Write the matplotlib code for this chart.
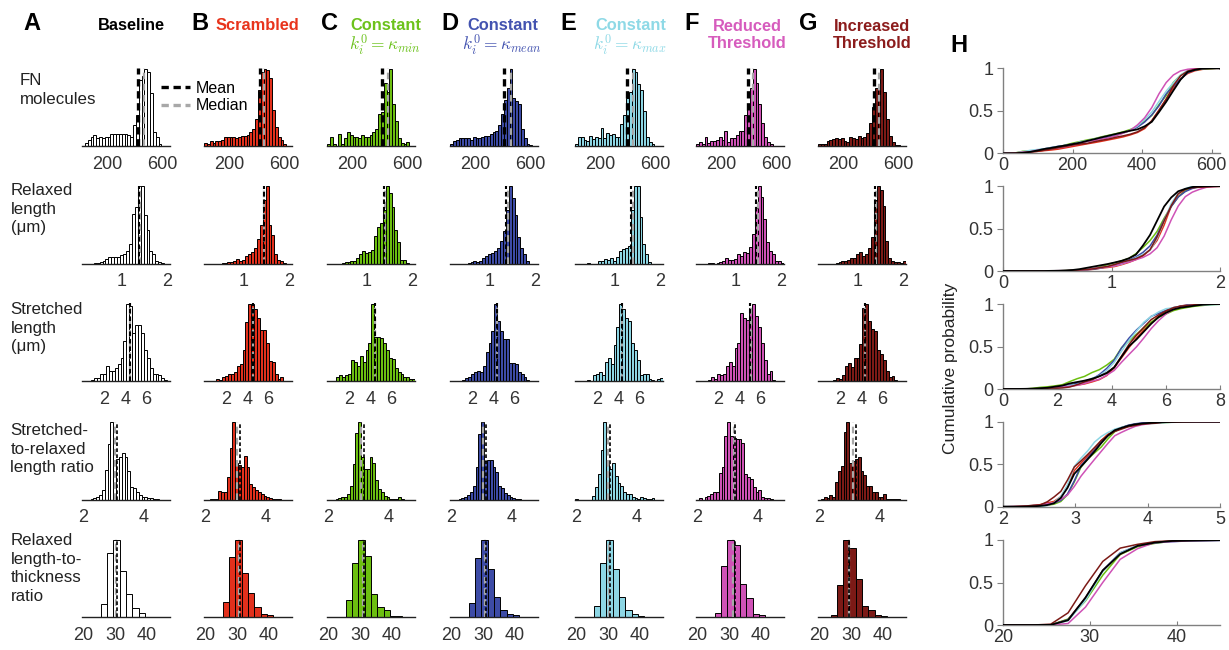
import numpy as np
import matplotlib
matplotlib.use('Agg')
import matplotlib.pyplot as plt
from matplotlib.lines import Line2D

plt.rcParams['font.family'] = ['Liberation Sans', 'DejaVu Sans']
plt.rcParams['mathtext.fontset'] = 'cm'

# ---- данные: высоты столбцов гистограмм (в % от максимума) ----
# колонки: Baseline, Scrambled, Constant min, Constant mean, Constant max, Reduced, Increased
column_names = ['Baseline', 'Scrambled', 'Constant', 'Constant', 'Constant',
                'Reduced\nThreshold', 'Increased\nThreshold']
column_letters = ['A', 'B', 'C', 'D', 'E', 'F', 'G']
row_labels = ['FN\nmolecules', 'Relaxed\nlength\n(\u03bcm)', 'Stretched\nlength\n(\u03bcm)',
              'Stretched-\nto-relaxed\nlength ratio', 'Relaxed\nlength-to-\nthickness\nratio']

# FN molecules
edges_fn = np.linspace(15, 655, 32)
fn_counts = [
    [0, 4, 8, 12, 14, 10, 12, 10, 12, 12, 16, 15, 16, 15, 15, 15, 14, 12, 27, 40, 86, 91, 100, 96, 69, 18, 12, 2, 0, 0, 0],
    [4, 3, 6, 4, 7, 6, 8, 12, 12, 12, 12, 11, 12, 13, 13, 14, 18, 22, 35, 72, 96, 100, 98, 88, 46, 25, 12, 8, 2, 0, 0],
    [3, 12, 3, 0, 15, 3, 10, 18, 14, 12, 12, 10, 14, 12, 12, 14, 18, 22, 42, 44, 82, 70, 100, 55, 32, 10, 4, 2, 5, 0, 0],
    [2, 6, 8, 10, 11, 11, 10, 8, 12, 11, 10, 12, 13, 13, 15, 18, 20, 27, 42, 60, 75, 100, 62, 58, 55, 22, 10, 3, 1, 0, 0],
    [3, 12, 12, 8, 6, 13, 9, 12, 10, 23, 10, 17, 14, 16, 12, 12, 28, 40, 62, 70, 100, 96, 80, 72, 45, 12, 5, 2, 0, 0, 0],
    [3, 5, 2, 12, 4, 7, 7, 8, 12, 8, 20, 5, 10, 10, 14, 20, 20, 40, 52, 75, 100, 82, 55, 30, 12, 5, 2, 0, 0, 0, 0],
    [2, 3, 3, 6, 8, 9, 10, 9, 10, 7, 5, 12, 10, 9, 13, 10, 12, 17, 30, 50, 75, 80, 100, 70, 35, 13, 5, 1, 1, 0, 0],
]
fn_mean = [424, 420, 412, 409, 390, 390, 420]
fn_median = [465, 450, 461, 458, 440, 426, 458]

# Relaxed length
edges_rl = np.linspace(0.12, 2.07, 31)
rl_counts = [
    [0, 0, 0, 0, 1, 1, 2, 3, 6, 9, 9, 9, 9, 11, 12, 17, 26, 64, 74, 100, 100, 63, 44, 17, 13, 4, 2, 1, 0, 0],
    [0, 0, 0, 0, 0, 0, 1, 1, 2, 2, 3, 6, 4, 5, 10, 12, 15, 20, 32, 50, 82, 100, 50, 37, 12, 5, 3, 1, 0, 0],
    [0, 0, 0, 0, 0, 1, 2, 2, 4, 4, 7, 12, 17, 14, 15, 18, 36, 47, 53, 70, 100, 91, 73, 43, 28, 5, 5, 1, 0, 0],
    [0, 0, 0, 0, 0, 0, 1, 2, 3, 2, 4, 7, 10, 12, 14, 16, 20, 30, 42, 70, 100, 85, 63, 35, 20, 12, 4, 0, 0, 0],
    [0, 0, 0, 0, 1, 0, 0, 0, 4, 4, 6, 5, 7, 4, 9, 17, 19, 20, 23, 70, 100, 100, 61, 26, 13, 2, 0, 0, 0, 0],
    [0, 0, 0, 0, 1, 1, 0, 1, 2, 4, 7, 5, 5, 6, 13, 10, 15, 14, 22, 38, 72, 100, 86, 58, 28, 17, 13, 4, 3, 1],
    [0, 0, 0, 0, 0, 0, 1, 2, 3, 3, 5, 8, 7, 12, 15, 10, 12, 20, 35, 82, 100, 95, 75, 30, 8, 3, 2, 2, 1, 3],
]
rl_mean = [1.38, 1.44, 1.38, 1.37, 1.36, 1.45, 1.38]
rl_median = [1.40, 1.46, 1.40, 1.40, 1.40, 1.49, 1.41]

# Stretched length
edges_sl = np.linspace(0, 8.2, 31)
sl_counts = [
    [0.5, 0, 1, 2, 4, 4, 10, 10, 20, 13, 13, 17, 23, 30, 52, 100, 97, 62, 73, 73, 62, 40, 30, 17, 9, 10, 8, 4, 2, 0],
    [0, 0, 1, 0, 3, 2, 5, 7, 10, 10, 12, 20, 23, 40, 77, 100, 100, 94, 82, 67, 67, 50, 26, 25, 10, 3, 5, 1, 0, 0],
    [0, 0, 0, 6, 8, 5, 8, 10, 27, 25, 20, 33, 25, 40, 50, 100, 57, 58, 56, 50, 40, 30, 29, 17, 12, 10, 6, 6, 3, 3],
    [0, 0, 0, 0, 2, 4, 5, 10, 12, 13, 12, 20, 38, 50, 65, 100, 78, 65, 55, 55, 24, 24, 22, 12, 10, 5, 2, 0, 0, 0],
    [0, 0, 0, 0, 2, 0, 8, 9, 12, 8, 25, 30, 22, 47, 70, 100, 93, 82, 78, 50, 40, 28, 8, 10, 10, 3, 2, 1, 3, 4],
    [0, 0, 0, 0, 2, 6, 3, 10, 8, 10, 20, 25, 20, 43, 50, 88, 82, 80, 95, 100, 85, 70, 50, 27, 10, 13, 2, 1, 1, 1],
    [0, 0, 0, 0, 0, 2, 4, 3, 8, 20, 24, 18, 30, 30, 48, 95, 100, 78, 68, 65, 40, 35, 27, 13, 6, 7, 2, 1, 1, 1],
]
sl_mean = [4.4, 4.5, 4.4, 4.35, 4.3, 5.0, 4.3]
sl_median = [4.4, 4.5, 4.4, 4.3, 4.3, 5.05, 4.3]

# Stretched-to-relaxed length ratio
edges_sr = np.linspace(1.96, 4.85, 32)
sr_counts = [
    [0, 0, 0, 1, 2, 3, 6, 13, 38, 72, 100, 52, 53, 55, 60, 55, 37, 17, 15, 10, 6, 4, 3, 2, 2, 1, 1, 0, 0, 0, 0],
    [0, 0, 1, 1, 1, 11, 10, 10, 30, 67, 100, 48, 45, 42, 57, 42, 20, 17, 12, 10, 7, 5, 3, 2, 1, 1, 1, 0, 0, 0, 0],
    [0, 0, 0, 1, 2, 3, 4, 7, 18, 46, 86, 100, 55, 40, 40, 55, 48, 26, 14, 10, 5, 4, 1, 1, 1, 4, 1, 0, 0, 0, 0],
    [0, 0, 0, 1, 2, 4, 6, 10, 18, 42, 85, 100, 50, 51, 52, 42, 36, 18, 15, 9, 6, 4, 2, 1, 1, 0, 0, 0, 0, 0, 0],
    [1, 0, 0, 0, 0, 0, 5, 17, 33, 65, 100, 46, 40, 48, 31, 22, 18, 10, 7, 8, 4, 2, 1, 3, 2, 1, 1, 2, 0, 0, 0],
    [0, 2, 0, 4, 5, 7, 10, 10, 34, 42, 82, 100, 82, 80, 78, 78, 73, 33, 30, 27, 16, 10, 12, 3, 2, 2, 1, 0, 0, 0, 0],
    [0, 1, 3, 2, 6, 3, 23, 37, 43, 88, 100, 47, 50, 53, 55, 37, 32, 18, 18, 10, 10, 4, 3, 7, 1, 1, 1, 1, 1, 0, 0],
]
sr_mean = [3.12, 3.14, 3.16, 3.13, 3.10, 3.25, 3.20]
sr_median = [3.05, 3.06, 3.08, 3.05, 3.05, 3.20, 3.10]

# Relaxed length-to-thickness ratio
edges_lt = np.arange(19.5, 47.6, 2)
lt_counts = [
    [0, 0, 0.5, 17, 83, 100, 60, 30, 12, 6, 1, 1, 1, 0.5],
    [0, 0, 0.5, 20, 78, 100, 58, 31, 13, 4, 3, 1, 0.5, 0],
    [0, 0, 0, 23, 70, 100, 80, 30, 13, 9, 2, 2, 0, 0],
    [0, 0, 0, 19, 77, 100, 63, 26, 10, 4, 3, 1, 1, 1],
    [0, 0, 0, 15, 70, 100, 63, 26, 10, 4, 2, 1, 1, 1],
    [0, 0, 0, 6, 66, 100, 93, 43, 25, 4, 3, 1, 1, 1],
    [0, 0, 3, 42, 100, 90, 49, 14, 10, 3, 2, 1, 0, 0],
]
lt_mean = [30.5, 30.8, 31.2, 31.0, 30.7, 31.8, 29.5]
lt_median = [30.2, 30.5, 31.0, 30.7, 30.4, 31.4, 29.3]

hist_edges = [edges_fn, edges_rl, edges_sl, edges_sr, edges_lt]
hist_counts = [fn_counts, rl_counts, sl_counts, sr_counts, lt_counts]
hist_means = [fn_mean, rl_mean, sl_mean, sr_mean, lt_mean]
hist_medians = [fn_median, rl_median, sl_median, sr_median, lt_median]

hist_xlims = [(15, 655), (0.12, 2.07), (-0.06, 8.19), (1.96, 4.85), (19.5, 47.5)]
hist_xticks = [[200, 600], [1, 2], [2, 4, 6], [2, 4], [20, 30, 40]]
cdf_xlims = [(0, 624), (0, 2), (0, 8), (2, 5), (20, 45)]
cdf_xticks = [[0, 200, 400, 600], [0, 1, 2], [0, 2, 4, 6, 8], [2, 3, 4, 5], [20, 30, 40]]

# ---- оформление ----
bar_colors = ['white', '#e2301c', '#6cbf10', '#3d4ba6', '#8dd6e4', '#cf52b6', '#7c1a16']
title_colors = ['black', '#e8341c', '#6cc21c', '#4353b0', '#8ed9e6', '#d65cbd', '#8c1c1c']
line_colors = ['black', '#e2301c', '#6cbf10', '#3d4ba6', '#8dd6e4', '#cf52b6', '#7c1a16']
mean_lw = [2.4, 1.5, 1.5, 1.2, 1.2]

W, H = 1229, 650
fig = plt.figure(figsize=(W / 100, H / 100), dpi=100)


def box(left, top, w, h):
    return [left / W, 1 - (top + h) / H, w / W, h / H]


def pt(x, y):
    return x / W, 1 - y / H


col_left = [82, 204, 327, 450, 575, 696, 818]
row_top = [68, 185.7, 303.3, 421.7, 539.3]
hist_w, hist_h = 88, 78

for r in range(5):
    edges = hist_edges[r]
    for c in range(7):
        ax = fig.add_axes(box(col_left[c], row_top[r], hist_w, hist_h))
        ax.bar(edges[:-1], hist_counts[r][c], width=np.diff(edges), align='edge',
               color=bar_colors[c], edgecolor='black', linewidth=0.7, zorder=2)
        ax.axvline(hist_medians[r][c], color='#a8a8a8', lw=1.6, dashes=(3, 2), zorder=3)
        ax.axvline(hist_means[r][c], color='black', lw=mean_lw[r], dashes=(2.2, 1.4), zorder=4)
        ax.set_xlim(hist_xlims[r])
        ax.set_ylim(0, 101)
        ax.set_xticks(hist_xticks[r])
        ax.set_yticks([])
        for s in ['top', 'right', 'left']:
            ax.spines[s].set_visible(False)
        ax.spines['bottom'].set_color('#222222')
        ax.spines['bottom'].set_linewidth(1.0)
        ax.tick_params(axis='x', length=0, pad=7, labelsize=13, labelcolor='#333333')
        ax.patch.set_alpha(0)

# ---- колонка H: кумулятивные распределения ----
h_left, h_w, h_h = 1003, 217, 85
h_top = [68.3, 186, 304, 421.7, 540]
for r in range(5):
    ax = fig.add_axes(box(h_left, h_top[r], h_w, h_h))
    edges = hist_edges[r]
    lo, hi = cdf_xlims[r]
    for c in [1, 2, 3, 4, 5, 6, 0]:
        counts = np.asarray(hist_counts[r][c], dtype=float)
        cum = np.concatenate([[0], np.cumsum(counts)]) / counts.sum()
        x = np.concatenate([[lo], edges, [hi]])
        y = np.concatenate([[0], cum, [1]])
        ax.plot(x, y, color=line_colors[c], lw=1.1 if c else 1.3, zorder=3 if c == 0 else 2)
    ax.set_xlim(lo, hi)
    ax.set_ylim(0, 1)
    ax.set_xticks(cdf_xticks[r])
    ax.set_yticks([0, 0.5, 1])
    ax.set_yticklabels(['0', '0.5', '1'])
    for s in ['top', 'right']:
        ax.spines[s].set_visible(False)
    for s in ['left', 'bottom']:
        ax.spines[s].set_color('#808080')
        ax.spines[s].set_linewidth(1.0)
    ax.tick_params(axis='x', direction='in', length=3, pad=3, color='#808080',
                   labelsize=13, labelcolor='#333333')
    ax.tick_params(axis='y', direction='out', length=4, pad=3, color='#808080',
                   labelsize=13, labelcolor='#333333')
    ax.patch.set_alpha(0)

fig.text(*pt(951, 368), 'Cumulative probability', rotation=90, ha='center', va='center',
         fontsize=12.5, color='#222222')

# ---- заголовки колонок ----
letter_x = [31.7, 200, 329, 450, 568, 691.7, 808.3]
for c in range(7):
    fig.text(*pt(letter_x[c], 23.5), column_letters[c], fontsize=17, fontweight='bold',
             ha='center', va='center')
fig.text(*pt(959, 46), 'H', fontsize=17, fontweight='bold', ha='center', va='center')

fig.text(*pt(131.7, 25), column_names[0], fontsize=11.8, fontweight='bold',
         color=title_colors[0], ha='center', va='center')
fig.text(*pt(216, 25.5), column_names[1], fontsize=11.8, fontweight='bold',
         color=title_colors[1], ha='left', va='center')
title_cx = [385.5, 503, 631]
math_labels = [r'$k_i^0 = \kappa_{min}$', r'$k_i^0 = \kappa_{mean}$', r'$k_i^0 = \kappa_{max}$']
for i, c in enumerate([2, 3, 4]):
    fig.text(*pt(title_cx[i], 25), column_names[c], fontsize=11.8, fontweight='bold',
             color=title_colors[c], ha='center', va='center')
    fig.text(*pt(title_cx[i] - 1, 45), math_labels[i], fontsize=12.5,
             color=title_colors[c], ha='center', va='center')
fig.text(*pt(747.5, 35), column_names[5], fontsize=11.8, fontweight='bold',
         color=title_colors[5], ha='center', va='center', linespacing=1.15)
fig.text(*pt(872, 35), column_names[6], fontsize=11.8, fontweight='bold',
         color=title_colors[6], ha='center', va='center', linespacing=1.15)

# ---- подписи строк ----
label_pos = [(19.5, 73), (10.5, 183), (10.5, 302), (10.5, 423), (10.5, 533)]
for r in range(5):
    fig.text(*pt(*label_pos[r]), row_labels[r], fontsize=12.2, color='#222222',
             ha='left', va='top', linespacing=1.3)

# ---- легенда Mean / Median ----
handles = [Line2D([], [], color='black', lw=2.4, dashes=(2.2, 1.4)),
           Line2D([], [], color='#a8a8a8', lw=2.4, dashes=(2.2, 1.4))]
fig.legend(handles, ['Mean', 'Median'], loc='upper left', bbox_to_anchor=pt(161, 81),
           frameon=False, fontsize=11.5, handlelength=1.8, handletextpad=0.4,
           labelspacing=0.15, borderpad=0, borderaxespad=0)

fig.savefig('out.png', dpi=100)
